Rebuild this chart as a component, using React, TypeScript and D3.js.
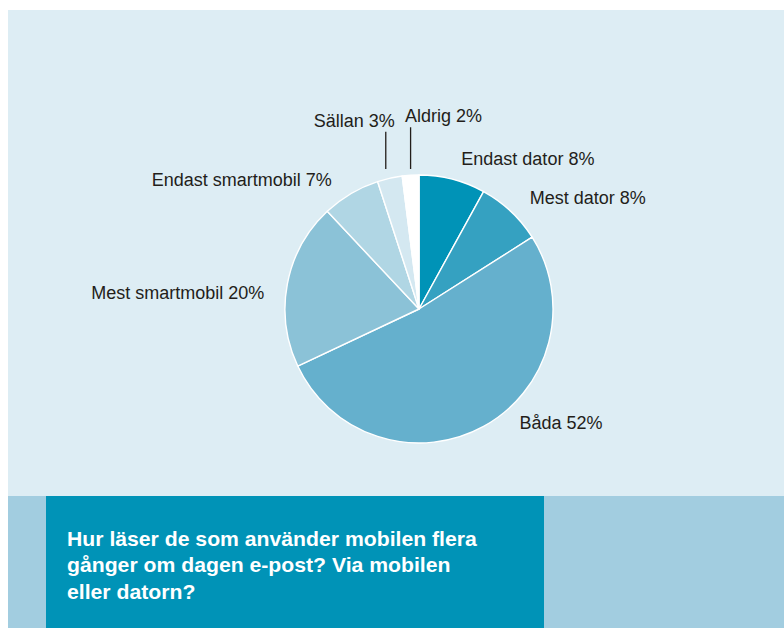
import React from "react";
import * as d3 from "d3";

const categories = [
  "Endast dator",
  "Mest dator",
  "Båda",
  "Mest smartmobil",
  "Endast smartmobil",
  "Sällan",
  "Aldrig",
];
const values = [8, 8, 52, 20, 7, 3, 2];
const colors = ["#0093b7", "#35a1c1", "#65b0cd", "#8bc2d7", "#b0d6e4", "#d4e8f1", "#ffffff"];
const titleLines = [
  "Hur läser de som använder mobilen flera",
  "gånger om dagen e-post? Via mobilen",
  "eller datorn?",
];

// label layout relative to the slice's outer mid-point
const labelLayout = [
  { dx: 9, dy: -14, anchor: "start", leader: false, ldx: 0 },
  { dx: 19, dy: -7, anchor: "start", leader: false, ldx: 0 },
  { dx: 36, dy: 3, anchor: "start", leader: false, ldx: 0 },
  { dx: -23, dy: 15, anchor: "end", leader: false, ldx: 0 },
  { dx: -19, dy: -8, anchor: "end", leader: false, ldx: 0 },
  { dx: 5, dy: -51.5, anchor: "end", leader: true, ldx: -4 },
  { dx: -5.6, dy: -53, anchor: "start", leader: true, ldx: 0 },
];

const W = 784;
const H = 628;
const cx = 419;
const cy = 309;
const R = 134;

export default function App() {
  const pie = d3.pie<number>().sort(null).value((d) => d);
  const arcs = pie(values);
  const arc = d3.arc<d3.PieArcDatum<number>>().innerRadius(0).outerRadius(R);

  return (
    <svg
      width={W}
      height={H}
      style={{ position: "fixed", left: 0, top: 0, display: "block" }}
      fontFamily="'Liberation Sans', Arial, Helvetica, sans-serif"
    >
      <rect x={0} y={0} width={W} height={H} fill="#ffffff" />
      <rect x={8} y={10} width={W - 8} height={486} fill="#ddedf4" />
      <rect x={8} y={496} width={W - 8} height={H - 496} fill="#a2cde0" />
      <rect x={46} y={496} width={498} height={H - 496} fill="#0093b7" />

      <g transform={`translate(${cx},${cy})`}>
        {arcs.map((a, i) => (
          <path
            key={categories[i]}
            d={arc(a) || ""}
            fill={colors[i]}
            stroke="#ffffff"
            strokeWidth={1.4}
            strokeLinejoin="round"
          />
        ))}
      </g>

      {arcs.map((a, i) => {
        const mid = (a.startAngle + a.endAngle) / 2;
        const ax = cx + R * Math.sin(mid);
        const ay = cy - R * Math.cos(mid);
        const L = labelLayout[i];
        const tx = ax + L.dx;
        const ty = ay + L.dy;
        return (
          <g key={"l" + i}>
            {L.leader && (
              <line
                x1={ax + L.ldx}
                x2={ax + L.ldx}
                y1={ty + 5}
                y2={cy - R - 6}
                stroke="#231e1a"
                strokeWidth={1.3}
              />
            )}
            <text
              x={tx}
              y={ty}
              textAnchor={L.anchor as any}
              fontSize={18}
              fill="#231e1a"
            >
              {`${categories[i]} ${values[i]}%`}
            </text>
          </g>
        );
      })}

      <g transform="translate(67,0) scale(1.087,1)">
        {titleLines.map((t, i) => (
          <text
            key={t}
            x={0}
            y={546 + i * 26.4}
            fontSize={19.5}
            fontWeight="bold"
            fill="#ffffff"
          >
            {t}
          </text>
        ))}
      </g>
    </svg>
  );
}
